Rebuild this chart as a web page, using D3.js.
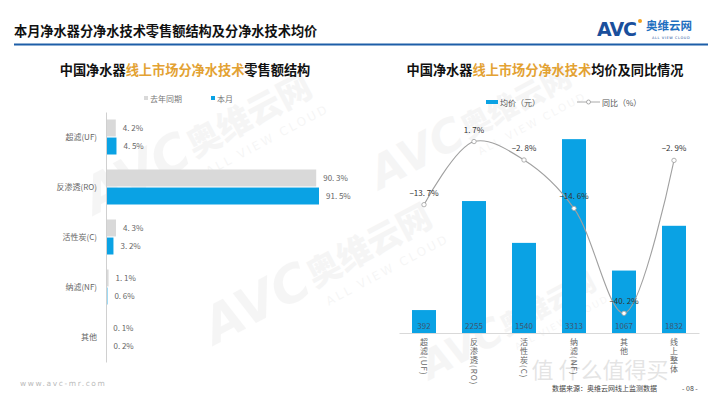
<!DOCTYPE html>
<html><head><meta charset="utf-8">
<script src="https://cdn.jsdelivr.net/npm/d3@7"></script>
<style>
html,body{margin:0;padding:0;background:#fff;}
svg{display:block;font-family:"Noto Sans CJK SC","Noto Sans",sans-serif;}
text.vlab{writing-mode:vertical-rl;text-orientation:mixed;}
</style></head>
<body><svg id="c" width="720" height="405"></svg>
<script>
// ---- data ----
const shareCategories = ["超滤(UF)", "反渗透(RO)", "活性炭(C)", "纳滤(NF)", "其他"];
const shareLastYear = [4.2, 90.3, 4.3, 1.1, 0.1];
const shareThisMonth = [4.5, 91.5, 3.2, 0.6, 0.2];
const shareSeries = ["去年同期", "本月"];

const priceCategories = ["超滤(UF)", "反渗透(RO)", "活性炭(C)", "纳滤(NF)", "其他", "线上整体"];
const avgPrice = [392, 2255, 1540, 3313, 1067, 1832];
const yoy = [-13.7, 1.7, -2.8, -14.6, -40.2, -2.9];
const priceSeries = ["均价（元）", "同比（%）"];

const fmtPct = v => d3.format(".1f")(v).replace(".", ". ") + "%";

const svg = d3.select("#c");
const BLUE = "#0aa2e4", GREY = "#d9d9d9", GOLD = "#e3a233";

// watermarks
function watermark(x, y, s) {
  const g = svg.append("g").attr("transform", `translate(${x},${y}) rotate(-28) scale(${s})`).attr("opacity", 0.05);
  g.append("text").attr("x", 0).attr("y", 0).attr("font-size", 60).attr("font-weight", 900)
    .attr("font-style", "italic").attr("fill", "#555").attr("font-family", "DejaVu Sans").text("AVC");
  g.append("text").attr("x", 135).attr("y", -4).attr("font-size", 40).attr("font-weight", 900)
    .attr("fill", "#555").text("奥维云网");
  g.append("text").attr("x", 140).attr("y", 22).attr("font-size", 14).attr("letter-spacing", 3)
    .attr("fill", "#555").attr("font-family", "DejaVu Sans").text("ALL VIEW CLOUD");
}
watermark(95, 215, 0.85);
watermark(380, 190, 0.75);
watermark(215, 345, 0.85);
watermark(430, 380, 0.65);

// title
svg.append("text").attr("x", 14).attr("y", 36).attr("font-size", 13.2).attr("font-weight", 700)
  .attr("fill", "#111").text("本月净水器分净水技术零售额结构及分净水技术均价");
svg.append("line").attr("x1", 14).attr("x2", 708).attr("y1", 44.5).attr("y2", 44.5)
  .attr("stroke", "#1d5ea8").attr("stroke-width", 2);

// logo
const logo = svg.append("g");
logo.append("text").attr("x", 597).attr("y", 36).attr("font-size", 19).attr("font-weight", 900)
  .attr("font-family", "DejaVu Sans").attr("fill", "#1a4f9c").attr("letter-spacing", -1).text("AVC");
logo.append("circle").attr("cx", 640).attr("cy", 21).attr("r", 2).attr("fill", "#f0a020");
logo.append("text").attr("x", 646).attr("y", 30).attr("font-size", 11.5).attr("font-weight", 700)
  .attr("fill", "#1f6fc0").text("奥维云网");
logo.append("text").attr("x", 652).attr("y", 39).attr("font-size", 3.5).attr("letter-spacing", 0.6)
  .attr("fill", "#1a4f9c").attr("font-family", "DejaVu Sans").text("ALL VIEW CLOUD");

// subtitles
function subtitle(x, parts) {
  const t = svg.append("text").attr("x", x).attr("y", 75).attr("font-size", 13.2).attr("font-weight", 700)
    .attr("text-anchor", "middle");
  parts.forEach(p => t.append("tspan").attr("fill", p[1]).text(p[0]));
}
subtitle(185, [["中国净水器", "#111"], ["线上市场分净水技术", GOLD], ["零售额结构", "#111"]]);
subtitle(545, [["中国净水器", "#111"], ["线上市场分净水技术", GOLD], ["均价及同比情况", "#111"]]);

// ---- left chart ----
const x1 = d3.scaleLinear().domain([0, 91.5]).range([106, 319]);
const y1 = d3.scaleBand().domain(shareCategories).range([112, 362]).paddingInner(0.3).paddingOuter(0.15);
const y1s = d3.scaleBand().domain(shareSeries).range([0, y1.bandwidth()]).paddingInner(0.06);

// legend left
const lgL = svg.append("g").attr("font-size", 8).attr("fill", "#777");
[[shareSeries[0], GREY, 144], [shareSeries[1], BLUE, 211]].forEach(([t, c, x]) => {
  lgL.append("rect").attr("x", x).attr("y", 96).attr("width", 4).attr("height", 4).attr("fill", c);
  lgL.append("text").attr("x", x + 6).attr("y", 101.5).attr("fill", "#777").text(t);
});

const left = svg.append("g");
shareCategories.forEach((cat, i) => {
  [[shareLastYear[i], shareSeries[0], GREY], [shareThisMonth[i], shareSeries[1], BLUE]].forEach(([v, s, c]) => {
    const yy = y1(cat) + y1s(s);
    left.append("rect").attr("x", x1(0)).attr("y", yy).attr("width", x1(v) - x1(0))
      .attr("height", y1s.bandwidth()).attr("fill", c);
    left.append("text").attr("x", x1(v) + 7).attr("y", yy + y1s.bandwidth() / 2 + 3)
      .attr("font-size", 8).attr("fill", "#666").text(fmtPct(v));
  });
});
const yAxisL = d3.axisLeft(y1).tickSize(0).tickPadding(9);
const gyl = svg.append("g").attr("transform", `translate(${x1(0)},0)`).call(yAxisL);
gyl.select(".domain").attr("stroke", "#d0d0d0").attr("stroke-width", 1);
gyl.selectAll("text").attr("font-size", 8).attr("fill", "#666")
  .attr("font-family", "\"Noto Sans CJK SC\",sans-serif");

svg.append("text").attr("x", 20).attr("y", 386).attr("font-size", 7.5).attr("fill", "#bbb")
  .attr("letter-spacing", 1.6).attr("font-family", "DejaVu Sans").text("www.avc-mr.com");

// ---- right chart ----
const x2 = d3.scaleBand().domain(priceCategories).range([399, 699]).paddingInner(0.52).paddingOuter(0.26);
const yB = d3.scaleLinear().domain([0, 3640]).range([333, 120]);
const yL = d3.scaleLinear().domain([-45, 5]).range([333, 128]);

// legend right
const lgR = svg.append("g").attr("font-size", 8).attr("fill", "#555");
lgR.append("rect").attr("x", 486).attr("y", 100).attr("width", 12).attr("height", 4).attr("fill", BLUE);
lgR.append("text").attr("x", 500).attr("y", 105.5).attr("fill", "#555").text(priceSeries[0]);
lgR.append("line").attr("x1", 577).attr("x2", 600).attr("y1", 102).attr("y2", 102).attr("stroke", "#aaa");
lgR.append("circle").attr("cx", 588.5).attr("cy", 102).attr("r", 2).attr("fill", "#fff").attr("stroke", "#aaa");
lgR.append("text").attr("x", 602).attr("y", 105.5).attr("fill", "#555").text(priceSeries[1]);

const right = svg.append("g");
priceCategories.forEach((cat, i) => {
  right.append("rect").attr("x", x2(cat)).attr("y", yB(avgPrice[i])).attr("width", x2.bandwidth())
    .attr("height", yB(0) - yB(avgPrice[i])).attr("fill", BLUE);
  right.append("text").attr("x", x2(cat) + x2.bandwidth() / 2).attr("y", yB(0) - 4)
    .attr("text-anchor", "middle").attr("font-size", 8).attr("fill", "#3d5670").text(avgPrice[i]);
});

const gxr = svg.append("g").attr("transform", `translate(0,${yB(0)})`).call(d3.axisBottom(x2).tickSize(0).tickFormat(""));
gxr.select(".domain").attr("stroke", "#d9d9d9");

// vertical category labels, one text element each
priceCategories.forEach(cat => {
  const cx = x2(cat) + x2.bandwidth() / 2;
  svg.append("text").attr("class", "vlab").attr("x", cx).attr("y", 338)
    .attr("fill", "#666").attr("font-size", 8).attr("letter-spacing", 1)
    .attr("font-family", "\"Noto Sans CJK SC\",sans-serif").text(cat);
});

const pts = priceCategories.map((c, i) => [x2(c) + x2.bandwidth() / 2, yL(yoy[i])]);
right.append("path").attr("d", d3.line().curve(d3.curveCatmullRom.alpha(0.5))(pts))
  .attr("fill", "none").attr("stroke", "#a0a0a0").attr("stroke-width", 1.1);
pts.forEach((p, i) => {
  right.append("circle").attr("cx", p[0]).attr("cy", p[1]).attr("r", 2.2)
    .attr("fill", "#fff").attr("stroke", "#a0a0a0").attr("stroke-width", 0.8);
  right.append("text").attr("x", p[0]).attr("y", p[1] - 9).attr("text-anchor", "middle")
    .attr("font-size", 8).attr("fill", "#333").text(fmtPct(yoy[i]));
});

// source & other watermark
svg.append("text").attr("x", 600).attr("y", 378).attr("font-size", 22).attr("fill", "#000")
  .attr("opacity", 0.1).attr("text-anchor", "middle").text("值 什么值得买");
svg.append("text").attr("x", 552).attr("y", 391).attr("font-size", 7).attr("fill", "#444")
  .text("数据来源：奥维云网线上监测数据");
svg.append("text").attr("x", 682).attr("y", 391).attr("font-size", 7).attr("fill", "#444")
  .text("- 08 -");
</script></body></html>
